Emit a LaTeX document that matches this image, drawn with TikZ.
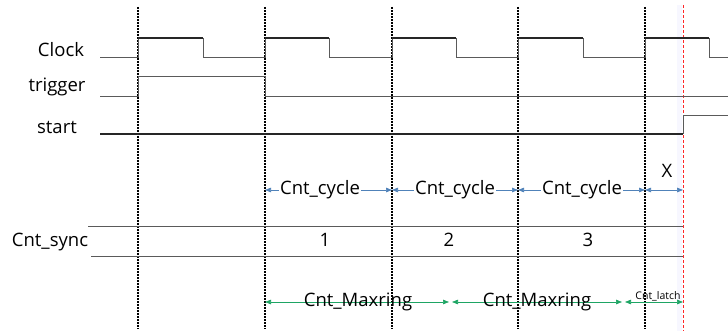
\documentclass[tikz,border=0pt]{standalone}
\usepackage{fontspec}
\setmainfont{Open Sans}
\usetikzlibrary{arrows.meta}
\definecolor{cycblue}{RGB}{80,130,185}
\definecolor{ringgreen}{RGB}{30,165,100}
\definecolor{siggray}{RGB}{90,90,90}
\tikzset{
  vdash/.style={black, line width=1.3pt, dash pattern=on 2pt off 1pt},
  reddash/.style={red!85, line width=0.7pt, dash pattern=on 3pt off 2pt},
  sig/.style={siggray, line width=0.9pt},
  sigdark/.style={black!85, line width=1.2pt},
  lbl/.style={inner sep=0pt, anchor=base},
  cyc/.style={cycblue, line width=0.7pt, {Triangle[length=6pt,width=4.5pt]}-{Triangle[length=6pt,width=4.5pt]}},
  ring/.style={ringgreen, line width=0.7pt, {Triangle[length=6pt,width=4.5pt]}-{Triangle[length=6pt,width=4.5pt]}},
  cyclbl/.style={fill=white, text=black, inner xsep=1pt, inner ysep=2pt, anchor=base},
  ringlbl/.style={text=black, inner sep=0pt, anchor=base},
}
\begin{document}
\begin{tikzpicture}[x=1pt,y=-1pt,font=\fontsize{18.5}{20}\selectfont]
\useasboundingbox (0,0) rectangle (728,331);
% light shade by red line
\fill[blue!3] (677,5) rectangle (682,331);
% vertical dashed lines
\foreach \x/\n in {138/a,265/b,392/c,518/d,645/e} {
  \coordinate (t\n) at (\x,7);
  \coordinate (b\n) at (\x,329);
  \draw[vdash] (t\n) -- (b\n);
}
\coordinate (tr) at (683,5);
\coordinate (br) at (683,331);
\draw[reddash] (tr) -- (br);
% signal labels
\node[lbl] (clk) at (61,57) {Clock};
\node[lbl] (trg) at (57,92) {trigger};
\node[lbl] (st) at (57,134) {start};
\node[lbl] (sync) at (50,247) {Cnt\_sync};
% clock
\draw[sig] (100,57) -- (138,57) -- (138,38) -- (203,38) -- (203,57) -- (265,57)
  -- (265,38) -- (329,38) -- (329,57) -- (392,57) -- (392,38) -- (456,38) -- (456,57)
  -- (518,57) -- (518,38) -- (583,38) -- (583,57) -- (645,57) -- (645,38) -- (709,38)
  -- (709,57) -- (728,57);
\draw[black!85, line width=1.1pt] (138,38) -- (203,38) (265,38) -- (329,38) (392,38) -- (456,38) (518,38) -- (583,38) (645,38) -- (709,38);
% trigger
\draw[sig] (100,96) -- (138,96) -- (138,76) -- (265,76) -- (265,96) -- (728,96);
% start
\draw[sigdark] (100,134) -- (683,134);
\draw[sig] (683,134) -- (683,115) -- (728,115);
% Cnt_sync bus
\draw[sig] (88,226) -- (683,226);
\draw[sig] (91,256) -- (683,256);
\node[lbl] (n1) at (325,247) {1};
\node[lbl] (n2) at (449,247) {2};
\node[lbl] (n3) at (588,247) {3};
% Cnt_cycle arrows
\coordinate (c1) at (265,190);
\coordinate (c2) at (392,190);
\coordinate (c3) at (518,190);
\coordinate (c4) at (645,190);
\coordinate (c5) at (683,190);
\draw[cyc] (c1) -- (c2);
\draw[cyc] (c2) -- (c3);
\draw[cyc] (c3) -- (c4);
\draw[cyc] (c4) -- (c5);
\node[cyclbl] (cy1) at (320,195) {Cnt\_cycle};
\node[cyclbl] (cy2) at (455,195) {Cnt\_cycle};
\node[cyclbl] (cy3) at (582,195) {Cnt\_cycle};
\node[lbl] (xl) at (667,178) {X};
% Cnt_Maxring arrows
\coordinate (m1) at (265,302);
\coordinate (m2) at (449,302);
\coordinate (m3) at (452,302);
\coordinate (m4) at (622,302);
\coordinate (m5) at (625,302);
\coordinate (m6) at (683,302);
\draw[ring] (m1) -- (m2);
\draw[ring] (m3) -- (m4);
\draw[ring] (m5) -- (m6);
\node[ringlbl] (mr1) at (358,306) {Cnt\_Maxring};
\node[ringlbl] (mr2) at (537,306) {Cnt\_Maxring};
\node[lbl, font=\fontsize{10.5}{12}\selectfont] (lat) at (658,299) {Cnt\_latch};
\end{tikzpicture}
\end{document}
